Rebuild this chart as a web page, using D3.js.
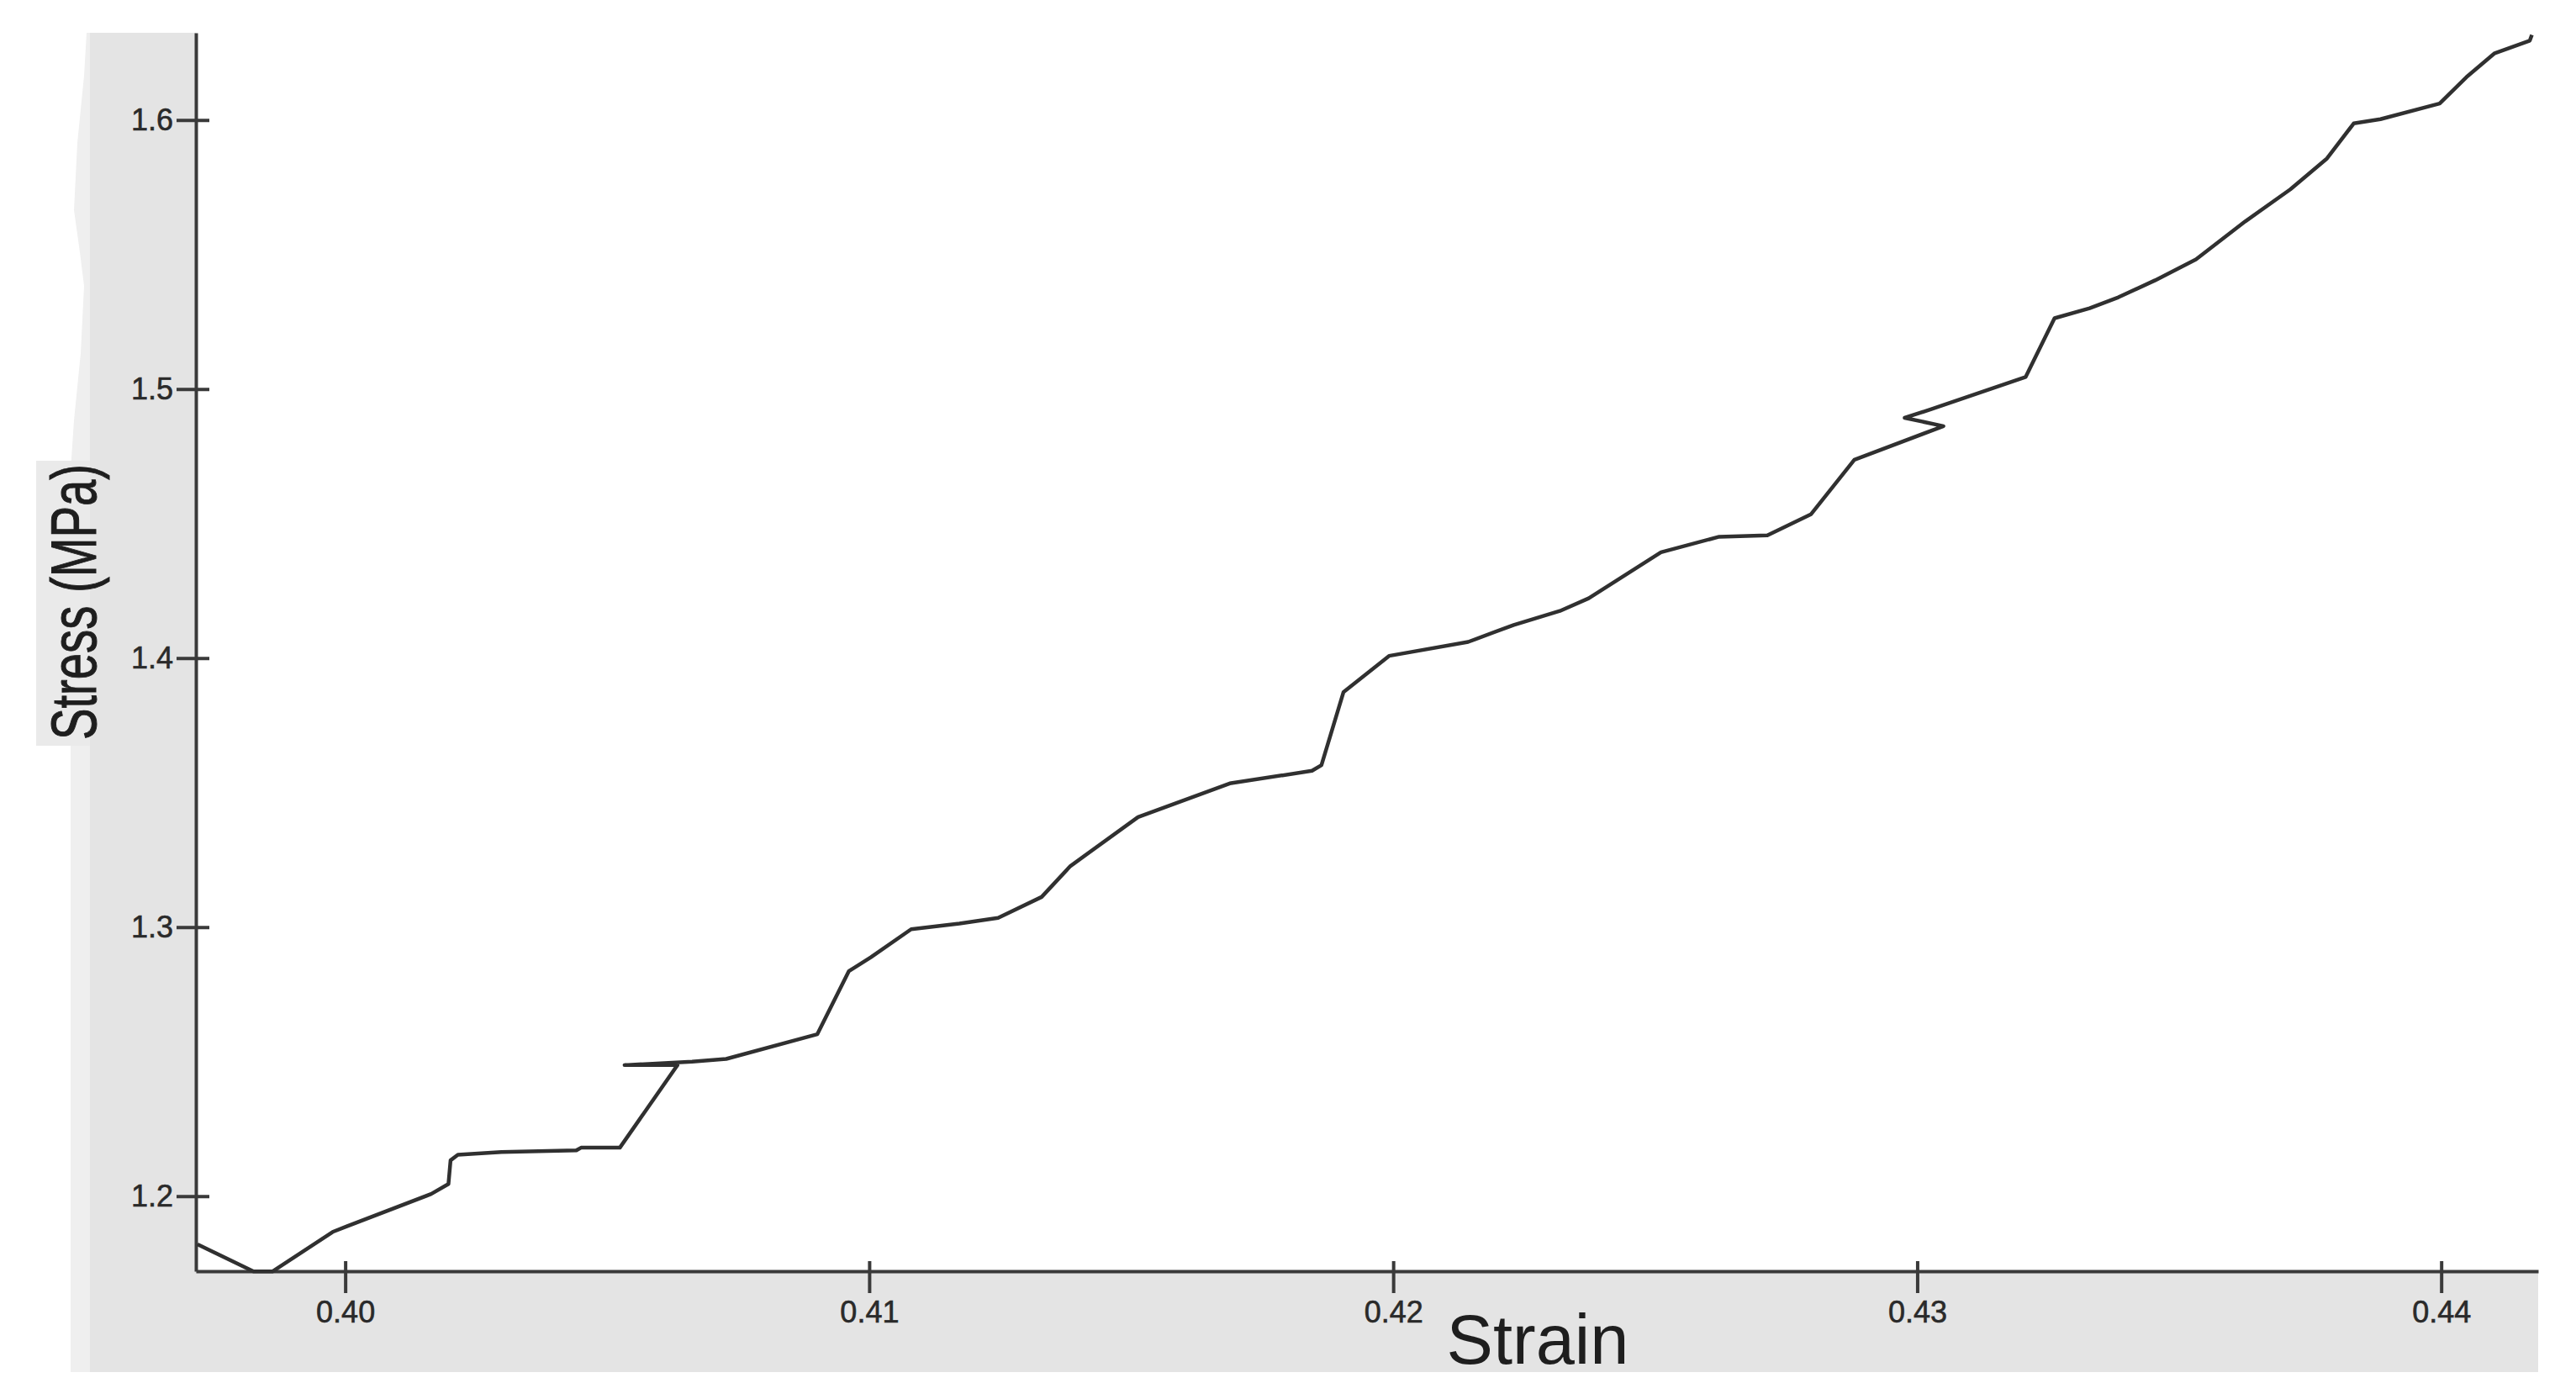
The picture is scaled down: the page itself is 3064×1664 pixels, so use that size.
<!DOCTYPE html>
<html>
<head>
<meta charset="utf-8">
<script src="https://cdn.jsdelivr.net/npm/d3@7"></script>
<style>
  body { margin: 0; background: #fff; }
  #chart text { font-family: "Liberation Sans", Arial, sans-serif; }
</style>
</head>
<body>
<div id="chart"></div>
<script>
// values
const strain = [
  0.39718, 0.39825, 0.39861, 0.39976, 0.40003, 0.40164, 0.40197, 0.40201,
  0.40215, 0.40298, 0.40441, 0.40450, 0.40524, 0.40634, 0.40533, 0.40662,
  0.40727, 0.40901, 0.40961, 0.41003, 0.41080, 0.41172, 0.41246, 0.41329,
  0.41384, 0.41513, 0.41688, 0.41845, 0.41863, 0.41905, 0.41992, 0.42143,
  0.42230, 0.42318, 0.42373, 0.42511, 0.42622, 0.42714, 0.42797, 0.42880,
  0.43050, 0.42976, 0.43027, 0.43207, 0.43262, 0.43329, 0.43384, 0.43454,
  0.43532, 0.43626, 0.43712, 0.43782, 0.43833, 0.43884, 0.43997, 0.44048,
  0.44102, 0.44169, 0.44173
];
const stress = [
  1.1821, 1.1720, 1.1720, 1.1867, 1.1888, 1.2008, 1.2045, 1.2133,
  1.2154, 1.2164, 1.2170, 1.2180, 1.2180, 1.2487, 1.2487, 1.2500,
  1.2510, 1.2602, 1.2836, 1.2888, 1.2992, 1.3013, 1.3034, 1.3112,
  1.3227, 1.3409, 1.3534, 1.3581, 1.3602, 1.3873, 1.4008, 1.4060,
  1.4123, 1.4175, 1.4222, 1.4393, 1.4451, 1.4456, 1.4534, 1.4737,
  1.4862, 1.4893, 1.4925, 1.5045, 1.5263, 1.5300, 1.5341, 1.5404,
  1.5482, 1.5623, 1.5742, 1.5857, 1.5987, 1.6003, 1.6061, 1.6159,
  1.6248, 1.6295, 1.6316
];
const xTicks = [0.40, 0.41, 0.42, 0.43, 0.44];
const yTicks = [1.2, 1.3, 1.4, 1.5, 1.6];
const xDomain = [0.39715, 0.44185];
const yDomain = [1.1721, 1.6324];

const config = {
  width: 3064,
  height: 1664,
  margin: { top: 39, right: 45, bottom: 152, left: 233 },
};
const innerW = config.width - config.margin.left - config.margin.right;
const innerH = config.height - config.margin.top - config.margin.bottom;

const svg = d3.select("#chart")
  .append("svg")
  .attr("width", config.width)
  .attr("height", config.height);

// gray panel behind the plot, with the lighter strip on its left edge
svg.append("rect")
  .attr("x", 107).attr("y", 39)
  .attr("width", 3019 - 107).attr("height", 1632 - 39)
  .attr("fill", "#e4e4e4");
svg.append("path")
  .attr("d", "M103,39 L100,90 L92,170 L88,250 L95,300 L100,340 L96,420 L88,500 L84,560 L84,1632 L107,1632 L107,39 Z")
  .attr("fill", "#efefef");
// lighter box behind the y label
svg.append("rect")
  .attr("x", 43).attr("y", 548)
  .attr("width", 64).attr("height", 339)
  .attr("fill", "#eaeaea");

const g = svg.append("g")
  .attr("transform", `translate(${config.margin.left},${config.margin.top})`);

g.append("rect")
  .attr("width", innerW)
  .attr("height", innerH)
  .attr("fill", "#fff");

const x = d3.scaleLinear().domain(xDomain).range([0, innerW]);
const y = d3.scaleLinear().domain(yDomain).range([innerH, 0]);

// x axis, ticks cross the line
const xAxis = g.append("g")
  .attr("transform", `translate(0,${innerH})`)
  .call(d3.axisBottom(x)
    .tickValues(xTicks)
    .tickFormat(d3.format(".2f"))
    .tickSizeInner(26)
    .tickSizeOuter(0)
    .tickPadding(9));
xAxis.selectAll(".tick line").attr("y1", -12);

const yAxis = g.append("g")
  .call(d3.axisLeft(y)
    .tickValues(yTicks)
    .tickFormat(d3.format(".1f"))
    .tickSizeInner(23)
    .tickSizeOuter(0)
    .tickPadding(4));
yAxis.selectAll(".tick line").attr("x1", 16);

[xAxis, yAxis].forEach((a) => {
  a.select(".domain").attr("stroke", "#3a3a3a").attr("stroke-width", 4);
  a.selectAll(".tick line").attr("stroke", "#3a3a3a").attr("stroke-width", 4);
  a.selectAll(".tick text")
    .attr("fill", "#2a2a2a")
    .attr("stroke", "#2a2a2a")
    .attr("stroke-width", 0.6)
    .style("font-size", "36px");
});

// the curve
const line = d3.line()
  .x((d, i) => x(strain[i]))
  .y((d, i) => y(stress[i]));

g.append("path")
  .datum(strain)
  .attr("d", line)
  .attr("fill", "none")
  .attr("stroke", "#303030")
  .attr("stroke-width", 4.5)
  .attr("stroke-linejoin", "round");

// axis titles
svg.append("text")
  .attr("x", 1829)
  .attr("y", 1622)
  .attr("text-anchor", "middle")
  .attr("fill", "#1e1e1e")
  .style("font-size", "83px")
  .text("Strain");

svg.append("text")
  .attr("transform", "translate(114,716) rotate(-90)")
  .attr("text-anchor", "middle")
  .attr("fill", "#1e1e1e")
  .attr("stroke", "#1e1e1e")
  .attr("stroke-width", 1)
  .attr("textLength", 328)
  .attr("lengthAdjust", "spacingAndGlyphs")
  .style("font-size", "76px")
  .text("Stress (MPa)");
</script>
</body>
</html>
